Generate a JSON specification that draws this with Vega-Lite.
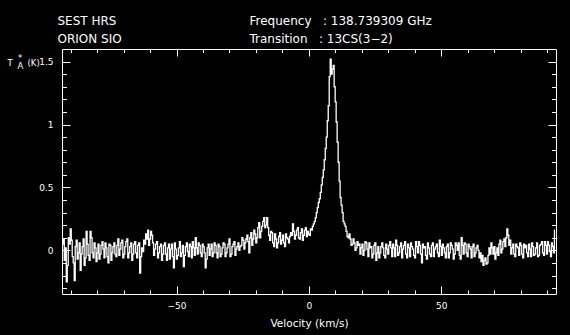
{
  "$schema": "https://vega.github.io/schema/vega-lite/v6.json",
  "width": 494,
  "height": 245,
  "autosize": {"type": "none"},
  "padding": {"left": 62, "top": 49, "right": 14, "bottom": 41},
  "background": "black",
  "data": {"values": [
    {"v":-93,"t":0.05},{"v":-92.25,"t":-0.08},{"v":-91.5,"t":-0.25},{"v":-90.75,"t":0.1},{"v":-90,"t":0.17},{"v":-89.25,"t":-0.05},{"v":-88.5,"t":-0.24},{"v":-87.75,"t":0.08},{"v":-87,"t":-0.02},{"v":-86.25,"t":-0.16},
    {"v":-85.5,"t":0.03},{"v":-84.75,"t":-0.12},{"v":-84,"t":0.15},{"v":-83.25,"t":-0.04},{"v":-82.5,"t":0.15},{"v":-81.75,"t":-0.02},{"v":-81,"t":0.06},{"v":-80.25,"t":-0.09},{"v":-79.5,"t":0.05},{"v":-78.75,"t":-0.03},
    {"v":-78,"t":0.07},{"v":-77.25,"t":-0.06},{"v":-76.5,"t":0.02},{"v":-75.75,"t":-0.1},{"v":-75,"t":0.04},{"v":-74.25,"t":-0.02},{"v":-73.5,"t":0.06},{"v":-72.75,"t":-0.05},{"v":-72,"t":0.09},{"v":-71.25,"t":0.01},
    {"v":-70.5,"t":0.08},{"v":-69.75,"t":-0.03},{"v":-69,"t":0.07},{"v":-68.25,"t":-0.06},{"v":-67.5,"t":0.03},{"v":-66.75,"t":-0.08},{"v":-66,"t":0.05},{"v":-65.25,"t":-0.02},{"v":-64.5,"t":0.04},{"v":-63.75,"t":-0.18},
    {"v":-63,"t":0.02},{"v":-62.25,"t":0.08},{"v":-61.5,"t":0.13},{"v":-60.75,"t":0.16},{"v":-60,"t":0.09},{"v":-59.25,"t":0.12},{"v":-58.5,"t":-0.04},{"v":-57.75,"t":0.05},{"v":-57,"t":-0.06},{"v":-56.25,"t":0.03},
    {"v":-55.5,"t":-0.08},{"v":-54.75,"t":0.04},{"v":-54,"t":-0.03},{"v":-53.25,"t":0.02},{"v":-52.5,"t":-0.07},{"v":-51.75,"t":0.05},{"v":-51,"t":-0.14},{"v":-50.25,"t":0.01},{"v":-49.5,"t":-0.04},{"v":-48.75,"t":0.07},
    {"v":-48,"t":-0.02},{"v":-47.25,"t":-0.13},{"v":-46.5,"t":0.03},{"v":-45.75,"t":-0.01},{"v":-45,"t":0.05},{"v":-44.25,"t":-0.06},{"v":-43.5,"t":0.02},{"v":-42.75,"t":0.1},{"v":-42,"t":-0.03},{"v":-41.25,"t":0.04},
    {"v":-40.5,"t":-0.05},{"v":-39.75,"t":0.03},{"v":-39,"t":-0.14},{"v":-38.25,"t":0.02},{"v":-37.5,"t":-0.04},{"v":-36.75,"t":0.05},{"v":-36,"t":-0.02},{"v":-35.25,"t":0.04},{"v":-34.5,"t":-0.06},{"v":-33.75,"t":0.03},
    {"v":-33,"t":-0.03},{"v":-32.25,"t":0.06},{"v":-31.5,"t":-0.05},{"v":-30.75,"t":0.02},{"v":-30,"t":0.09},{"v":-29.25,"t":-0.03},{"v":-28.5,"t":0.05},{"v":-27.75,"t":-0.04},{"v":-27,"t":0.03},{"v":-26.25,"t":0},
    {"v":-25.5,"t":0.04},{"v":-24.75,"t":0.08},{"v":-24,"t":0.06},{"v":-23.25,"t":0.12},{"v":-22.5,"t":-0.02},{"v":-21.75,"t":0.14},{"v":-21,"t":0.09},{"v":-20.25,"t":0.13},{"v":-19.5,"t":0.1},{"v":-18.75,"t":0.22},
    {"v":-18,"t":0.15},{"v":-17.25,"t":0.23},{"v":-16.5,"t":0.18},{"v":-15.75,"t":0.26},{"v":-15,"t":0.12},{"v":-14.25,"t":0.15},{"v":-13.5,"t":0.06},{"v":-12.75,"t":0.13},{"v":-12,"t":0.02},{"v":-11.25,"t":0.11},
    {"v":-10.5,"t":0.05},{"v":-9.75,"t":0.12},{"v":-9,"t":0.03},{"v":-8.25,"t":0.1},{"v":-7.5,"t":0.06},{"v":-6.75,"t":0.14},{"v":-6,"t":0.21},{"v":-5.25,"t":0.09},{"v":-4.5,"t":0.16},{"v":-3.75,"t":0.1},
    {"v":-3,"t":0.14},{"v":-2.25,"t":0.08},{"v":-1.5,"t":0.16},{"v":-0.75,"t":0.11},{"v":0,"t":0.13},{"v":0.75,"t":0.17},{"v":1.5,"t":0.19},{"v":2.25,"t":0.23},{"v":3,"t":0.3},{"v":3.75,"t":0.38},
    {"v":4.5,"t":0.46},{"v":5.25,"t":0.58},{"v":6,"t":0.72},{"v":6.75,"t":0.9},{"v":7.5,"t":1.15},{"v":8.25,"t":1.52},{"v":9,"t":1.44},{"v":9.75,"t":1.3},{"v":10.5,"t":1.02},{"v":11.25,"t":0.7},
    {"v":12,"t":0.42},{"v":12.75,"t":0.3},{"v":13.5,"t":0.21},{"v":14.25,"t":0.15},{"v":15,"t":0.1},{"v":15.75,"t":0.09},{"v":16.5,"t":0.05},{"v":17.25,"t":0.06},{"v":18,"t":0.02},{"v":18.75,"t":0.04},
    {"v":19.5,"t":-0.03},{"v":20.25,"t":0.05},{"v":21,"t":0},{"v":21.75,"t":0.06},{"v":22.5,"t":-0.05},{"v":23.25,"t":0.02},{"v":24,"t":-0.06},{"v":24.75,"t":0.04},{"v":25.5,"t":-0.08},{"v":26.25,"t":0.03},
    {"v":27,"t":-0.02},{"v":27.75,"t":0.06},{"v":28.5,"t":-0.04},{"v":29.25,"t":0.05},{"v":30,"t":-0.03},{"v":30.75,"t":0.07},{"v":31.5,"t":-0.05},{"v":32.25,"t":0.02},{"v":33,"t":0.08},{"v":33.75,"t":-0.04},
    {"v":34.5,"t":0.03},{"v":35.25,"t":-0.06},{"v":36,"t":0.04},{"v":36.75,"t":-0.03},{"v":37.5,"t":0.05},{"v":38.25,"t":-0.05},{"v":39,"t":0.03},{"v":39.75,"t":-0.04},{"v":40.5,"t":0.07},{"v":41.25,"t":-0.02},
    {"v":42,"t":0.04},{"v":42.75,"t":-0.1},{"v":43.5,"t":0.02},{"v":44.25,"t":-0.04},{"v":45,"t":0.06},{"v":45.75,"t":-0.03},{"v":46.5,"t":0.04},{"v":47.25,"t":-0.05},{"v":48,"t":0.03},{"v":48.75,"t":-0.02},
    {"v":49.5,"t":0.08},{"v":50.25,"t":-0.04},{"v":51,"t":0.02},{"v":51.75,"t":-0.06},{"v":52.5,"t":0.05},{"v":53.25,"t":-0.02},{"v":54,"t":0.04},{"v":54.75,"t":-0.07},{"v":55.5,"t":0.06},{"v":56.25,"t":0},
    {"v":57,"t":-0.04},{"v":57.75,"t":0.1},{"v":58.5,"t":-0.03},{"v":59.25,"t":0.05},{"v":60,"t":-0.05},{"v":60.75,"t":0.03},{"v":61.5,"t":-0.06},{"v":62.25,"t":0.05},{"v":63,"t":-0.02},{"v":63.75,"t":0.04},
    {"v":64.5,"t":-0.06},{"v":65.25,"t":-0.09},{"v":66,"t":-0.12},{"v":66.75,"t":-0.06},{"v":67.5,"t":-0.1},{"v":68.25,"t":0.02},{"v":69,"t":0.06},{"v":69.75,"t":-0.03},{"v":70.5,"t":-0.07},{"v":71.25,"t":0.02},
    {"v":72,"t":0.05},{"v":72.75,"t":-0.02},{"v":73.5,"t":0.07},{"v":74.25,"t":0.03},{"v":75,"t":0.17},{"v":75.75,"t":0.04},{"v":76.5,"t":-0.03},{"v":77.25,"t":0.05},{"v":78,"t":-0.05},{"v":78.75,"t":0.03},
    {"v":79.5,"t":-0.04},{"v":80.25,"t":0.04},{"v":81,"t":-0.06},{"v":81.75,"t":0.02},{"v":82.5,"t":-0.02},{"v":83.25,"t":0.05},{"v":84,"t":-0.05},{"v":84.75,"t":0.03},{"v":85.5,"t":-0.03},{"v":86.25,"t":0.06},
    {"v":87,"t":-0.04},{"v":87.75,"t":0.05},{"v":88.5,"t":-0.02},{"v":89.25,"t":0.07},{"v":90,"t":-0.03},{"v":90.75,"t":0.04},{"v":91.5,"t":-0.05},{"v":92.25,"t":0.03},{"v":93,"t":0.16},
    {"v":-92.625,"t":0.09},{"v":-91.875,"t":0.02},{"v":-91.125,"t":-0.12},{"v":-90.375,"t":0.05},{"v":-89.625,"t":0.08},{"v":-88.875,"t":-0.1},{"v":-88.125,"t":0.03},{"v":-87.375,"t":-0.07},{"v":-86.625,"t":0.06},{"v":-85.875,"t":-0.03},
    {"v":-85.125,"t":0.09},{"v":-84.375,"t":-0.06},{"v":-83.625,"t":0.05},{"v":-82.875,"t":-0.08},{"v":-82.125,"t":0.1},{"v":-81.375,"t":-0.06},{"v":-80.625,"t":0.02},{"v":-79.875,"t":-0.02},{"v":-79.125,"t":-0.07},{"v":-78.375,"t":0.04},
    {"v":-77.625,"t":0.01},{"v":-76.875,"t":0.06},{"v":-76.125,"t":-0.05},{"v":-75.375,"t":0.05},{"v":-74.625,"t":-0.08},{"v":-73.875,"t":0.03},{"v":-73.125,"t":-0.03},{"v":-72.375,"t":0.04},{"v":-71.625,"t":-0.04},{"v":-70.875,"t":0.06},
    {"v":-70.125,"t":-0.06},{"v":-69.375,"t":0.03},{"v":-68.625,"t":0.09},{"v":-67.875,"t":-0.02},{"v":-67.125,"t":0.06},{"v":-66.375,"t":-0.03},{"v":-65.625,"t":0.07},{"v":-64.875,"t":-0.06},{"v":-64.125,"t":0.06},{"v":-63.375,"t":-0.05},
    {"v":-62.625,"t":-0.01},{"v":-61.875,"t":0.05},{"v":-61.125,"t":0.09},{"v":-60.375,"t":0.04},{"v":-59.625,"t":0.15},{"v":-58.875,"t":0.06},{"v":-58.125,"t":0.01},{"v":-57.375,"t":0.07},{"v":-56.625,"t":-0.02},{"v":-55.875,"t":0.05},
    {"v":-55.125,"t":-0.03},{"v":-54.375,"t":0.06},{"v":-53.625,"t":-0.08},{"v":-52.875,"t":0.05},{"v":-52.125,"t":0.01},{"v":-51.375,"t":-0.05},{"v":-50.625,"t":0.06},{"v":-49.875,"t":-0.07},{"v":-49.125,"t":0.02},{"v":-48.375,"t":-0.05},
    {"v":-47.625,"t":0.04},{"v":-46.875,"t":-0.04},{"v":-46.125,"t":0.06},{"v":-45.375,"t":-0.05},{"v":-44.625,"t":0.03},{"v":-43.875,"t":0.07},{"v":-43.125,"t":-0.04},{"v":-42.375,"t":0.02},{"v":-41.625,"t":0.06},{"v":-40.875,"t":-0.02},
    {"v":-40.125,"t":0.05},{"v":-39.375,"t":-0.02},{"v":-38.625,"t":-0.07},{"v":-37.875,"t":0.05},{"v":-37.125,"t":0.01},{"v":-36.375,"t":-0.05},{"v":-35.625,"t":0.06},{"v":-34.875,"t":-0.02},{"v":-34.125,"t":0.05},{"v":-33.375,"t":-0.05},
    {"v":-32.625,"t":0.02},{"v":-31.875,"t":0.05},{"v":-31.125,"t":-0.02},{"v":-30.375,"t":0.05},{"v":-29.625,"t":-0.05},{"v":-28.875,"t":0.03},{"v":-28.125,"t":0.07},{"v":-27.375,"t":0.01},{"v":-26.625,"t":0.06},{"v":-25.875,"t":0.03},
    {"v":-25.125,"t":0.1},{"v":-24.375,"t":0.01},{"v":-23.625,"t":0.09},{"v":-22.875,"t":0.07},{"v":-22.125,"t":0.1},{"v":-21.375,"t":0.04},{"v":-20.625,"t":0.16},{"v":-19.875,"t":0.06},{"v":-19.125,"t":0.18},{"v":-18.375,"t":0.1},
    {"v":-17.625,"t":0.19},{"v":-16.875,"t":0.26},{"v":-16.125,"t":0.2},{"v":-15.375,"t":0.18},{"v":-14.625,"t":0.08},{"v":-13.875,"t":0.14},{"v":-13.125,"t":0.03},{"v":-12.375,"t":0.09},{"v":-11.625,"t":0.06},{"v":-10.875,"t":0.14},
    {"v":-10.125,"t":0.08},{"v":-9.375,"t":0.06},{"v":-8.625,"t":0.13},{"v":-7.875,"t":0.09},{"v":-7.125,"t":0.11},{"v":-6.375,"t":0.12},{"v":-5.625,"t":0.15},{"v":-4.875,"t":0.12},{"v":-4.125,"t":0.18},{"v":-3.375,"t":0.09},
    {"v":-2.625,"t":0.17},{"v":-1.875,"t":0.12},{"v":-1.125,"t":0.18},{"v":-0.375,"t":0.15},{"v":0.375,"t":0.12},{"v":1.125,"t":0.16},{"v":1.875,"t":0.21},{"v":2.625,"t":0.26},{"v":3.375,"t":0.34},{"v":4.125,"t":0.41},
    {"v":4.875,"t":0.52},{"v":5.625,"t":0.64},{"v":6.375,"t":0.81},{"v":7.125,"t":1.03},{"v":7.875,"t":1.38},{"v":8.625,"t":1.4},{"v":9.375,"t":1.47},{"v":10.125,"t":1.18},{"v":10.875,"t":0.86},{"v":11.625,"t":0.55},
    {"v":12.375,"t":0.36},{"v":13.125,"t":0.23},{"v":13.875,"t":0.19},{"v":14.625,"t":0.11},{"v":15.375,"t":0.13},{"v":16.125,"t":0.04},{"v":16.875,"t":0.09},{"v":17.625,"t":0},{"v":18.375,"t":0.07},{"v":19.125,"t":0.05},
    {"v":19.875,"t":0.02},{"v":20.625,"t":-0.04},{"v":21.375,"t":0.07},{"v":22.125,"t":0.01},{"v":22.875,"t":0.06},{"v":23.625,"t":0.03},{"v":24.375,"t":-0.03},{"v":25.125,"t":0.06},{"v":25.875,"t":-0.02},{"v":26.625,"t":-0.06},
    {"v":27.375,"t":0.03},{"v":28.125,"t":0.02},{"v":28.875,"t":-0.06},{"v":29.625,"t":0.01},{"v":30.375,"t":0.04},{"v":31.125,"t":0.02},{"v":31.875,"t":0.05},{"v":32.625,"t":-0.05},{"v":33.375,"t":0.04},{"v":34.125,"t":-0.02},
    {"v":34.875,"t":0.06},{"v":35.625,"t":0.01},{"v":36.375,"t":0.07},{"v":37.125,"t":-0.06},{"v":37.875,"t":0.02},{"v":38.625,"t":0.06},{"v":39.375,"t":0.01},{"v":40.125,"t":-0.06},{"v":40.875,"t":0.03},{"v":41.625,"t":0.07},
    {"v":42.375,"t":-0.03},{"v":43.125,"t":0.05},{"v":43.875,"t":0.03},{"v":44.625,"t":-0.07},{"v":45.375,"t":0.02},{"v":46.125,"t":-0.05},{"v":46.875,"t":0.06},{"v":47.625,"t":0.01},{"v":48.375,"t":0.05},{"v":49.125,"t":-0.05},
    {"v":49.875,"t":0.03},{"v":50.625,"t":0.05},{"v":51.375,"t":-0.02},{"v":52.125,"t":0.03},{"v":52.875,"t":-0.06},{"v":53.625,"t":0.06},{"v":54.375,"t":0.01},{"v":55.125,"t":-0.03},{"v":55.875,"t":0.04},{"v":56.625,"t":0.06},
    {"v":57.375,"t":-0.07},{"v":58.125,"t":0.04},{"v":58.875,"t":0.06},{"v":59.625,"t":-0.02},{"v":60.375,"t":0.05},{"v":61.125,"t":0.01},{"v":61.875,"t":0.03},{"v":62.625,"t":-0.05},{"v":63.375,"t":0.02},{"v":64.125,"t":0},
    {"v":64.875,"t":-0.02},{"v":65.625,"t":-0.04},{"v":66.375,"t":-0.08},{"v":67.125,"t":-0.11},{"v":67.875,"t":-0.04},{"v":68.625,"t":-0.03},{"v":69.375,"t":0.02},{"v":70.125,"t":0.03},{"v":70.875,"t":-0.02},{"v":71.625,"t":-0.04},
    {"v":72.375,"t":0.08},{"v":73.125,"t":0.01},{"v":73.875,"t":0.09},{"v":74.625,"t":0.1},{"v":75.375,"t":0.12},{"v":76.125,"t":0.08},{"v":76.875,"t":0.02},{"v":77.625,"t":-0.03},{"v":78.375,"t":0.05},{"v":79.125,"t":0.02},
    {"v":79.875,"t":0.06},{"v":80.625,"t":-0.03},{"v":81.375,"t":0.05},{"v":82.125,"t":0.04},{"v":82.875,"t":-0.05},{"v":83.625,"t":0.01},{"v":84.375,"t":0.06},{"v":85.125,"t":-0.04},{"v":85.875,"t":0.02},{"v":86.625,"t":-0.05},
    {"v":87.375,"t":0.04},{"v":88.125,"t":0.07},{"v":88.875,"t":-0.04},{"v":89.625,"t":0.04},{"v":90.375,"t":0.07},{"v":91.125,"t":-0.01},{"v":91.875,"t":0.06},{"v":92.625,"t":-0.02}
  ]},
  "layer": [
    {
      "mark": {"type": "line", "color": "white", "strokeWidth": 1.3, "interpolate": "step"},
      "encoding": {
        "x": {"field": "v", "type": "quantitative", "sort": "ascending", "scale": {"domain": [-93.3, 93.4], "zero": false, "nice": false},
          "axis": {"orient": "bottom", "values": [-50, 0, 50], "tickSize": -8, "labels": true, "labelPadding": 15, "labelFontSize": 9, "format": "d",
            "title": "Velocity (km/s)", "titleFontSize": 10.5, "titleX": 247, "titleY": 32, "titleAlign": "center", "titleBaseline": "alphabetic"}},
        "y": {"field": "t", "type": "quantitative", "scale": {"domain": [-0.347, 1.6], "zero": false, "nice": false},
          "axis": {"orient": "left", "values": [0, 0.5, 1, 1.5], "tickSize": -8, "labels": true, "labelPadding": 17, "labelFontSize": 9, "format": "~g", "labelAlign": "right", "labelBaseline": "middle",
            "title": "T", "titleFontSize": 8.5, "titleAngle": 0, "titleX": -55, "titleY": 16, "titleAlign": "left", "titleBaseline": "alphabetic"}}
      }
    },
    {
      "mark": {"type": "line", "strokeOpacity": 0},
      "encoding": {
        "x": {"field": "v", "type": "quantitative", "scale": {"domain": [-93.3, 93.4], "zero": false, "nice": false},
          "axis": {"orient": "bottom", "values": [-90, -80, -70, -60, -50, -40, -30, -20, -10, 0, 10, 20, 30, 40, 50, 60, 70, 80, 90], "tickSize": -4, "labels": false, "title": null}},
        "y": {"field": "t", "type": "quantitative", "scale": {"domain": [-0.347, 1.6], "zero": false, "nice": false},
          "axis": {"orient": "left", "values": [-0.3, -0.2, -0.1, 0, 0.1, 0.2, 0.3, 0.4, 0.5, 0.6, 0.7, 0.8, 0.9, 1, 1.1, 1.2, 1.3, 1.4, 1.5], "tickSize": -4.5, "labels": false,
            "title": "(K)", "titleFontSize": 8.5, "titleAngle": 0, "titleX": -35, "titleY": 16, "titleAlign": "left", "titleBaseline": "alphabetic"}}
      }
    },
    {
      "mark": {"type": "line", "strokeOpacity": 0},
      "encoding": {
        "x": {"field": "v", "type": "quantitative", "scale": {"domain": [-93.3, 93.4], "zero": false, "nice": false},
          "axis": {"orient": "top", "values": [-50, 0, 50], "tickSize": -7, "labels": false,
            "title": ["Frequency\u00a0\u00a0\u00a0: 138.739309 GHz", "Transition\u00a0\u00a0\u00a0: 13CS(3\u22122)"], "titleFontSize": 12, "titleLineHeight": 18.7, "titleX": 187, "titleY": -25, "titleAlign": "left", "titleBaseline": "alphabetic"}},
        "y": {"field": "t", "type": "quantitative", "scale": {"domain": [-0.347, 1.6], "zero": false, "nice": false},
          "axis": {"orient": "right", "values": [0, 0.5, 1, 1.5], "tickSize": -8, "labels": false,
            "title": "*", "titleFontSize": 8.5, "titleAngle": 0, "titleX": -536.5, "titleY": 11, "titleAlign": "center", "titleBaseline": "alphabetic"}}
      }
    },
    {
      "mark": {"type": "line", "strokeOpacity": 0},
      "encoding": {
        "x": {"field": "v", "type": "quantitative", "scale": {"domain": [-93.3, 93.4], "zero": false, "nice": false},
          "axis": {"orient": "top", "values": [-90, -80, -70, -60, -50, -40, -30, -20, -10, 0, 10, 20, 30, 40, 50, 60, 70, 80, 90], "tickSize": -3.5, "labels": false,
            "title": ["SEST HRS", "ORION SIO"], "titleFontSize": 12, "titleLineHeight": 18.7, "titleX": -5, "titleY": -25, "titleAlign": "left", "titleBaseline": "alphabetic"}},
        "y": {"field": "t", "type": "quantitative", "scale": {"domain": [-0.347, 1.6], "zero": false, "nice": false},
          "axis": {"orient": "right", "values": [-0.3, -0.2, -0.1, 0, 0.1, 0.2, 0.3, 0.4, 0.5, 0.6, 0.7, 0.8, 0.9, 1, 1.1, 1.2, 1.3, 1.4, 1.5], "tickSize": -4.5, "labels": false,
            "title": "A", "titleFontSize": 8.5, "titleAngle": 0, "titleX": -539, "titleY": 19.5, "titleAlign": "left", "titleBaseline": "alphabetic"}}
      }
    }
  ],
  "resolve": {"axis": {"x": "independent", "y": "independent"}},
  "config": {
    "view": {"stroke": "white", "strokeWidth": 1},
    "axis": {"domain": false, "grid": false, "tickColor": "white", "tickWidth": 1, "labelColor": "white", "titleColor": "white",
      "labelFont": "DejaVu Sans", "titleFont": "DejaVu Sans", "titleFontWeight": "normal", "labelOverlap": false, "labelFlush": false, "labelBound": false}
  }
}
